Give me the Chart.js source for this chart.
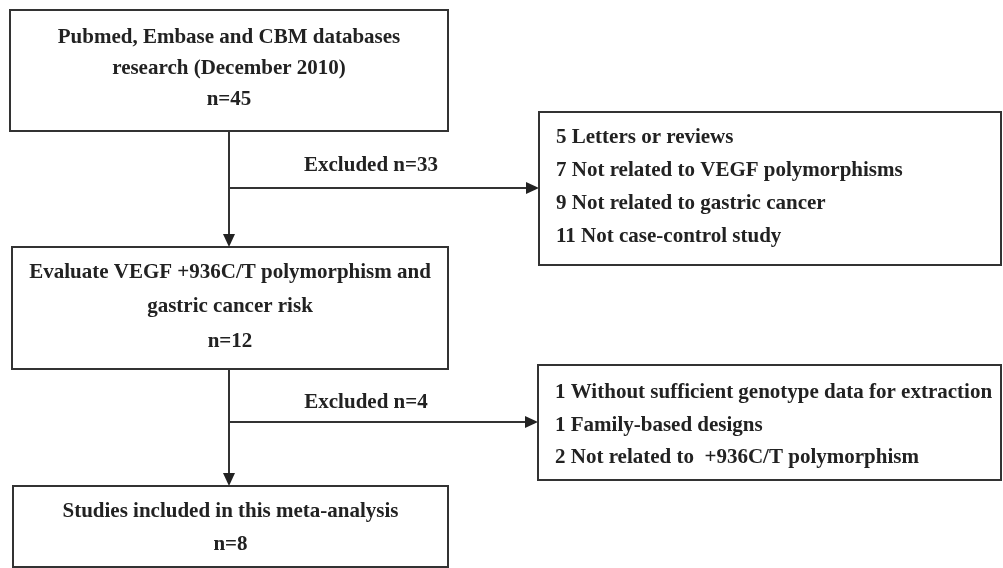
<!DOCTYPE html>
<html><head><meta charset="utf-8">
<script src="https://cdn.jsdelivr.net/npm/chart.js@4/dist/chart.umd.min.js"></script>
<style>html,body{margin:0;padding:0;background:#fff}canvas{display:block}</style>
</head><body>
<canvas id="c" width="1003" height="568"></canvas>
<script>
// ---- data ----
const stageTitles = [
  ["Pubmed, Embase and CBM databases", "research (December 2010)"],
  ["Evaluate VEGF +936C/T polymorphism and", "gastric cancer risk"],
  ["Studies included in this meta-analysis"]
];
const stageCounts = [45, 12, 8];
const excludedCounts = [33, 4];
const exclusionReasons1 = ["Letters or reviews", "Not related to VEGF polymorphisms", "Not related to gastric cancer", "Not case-control study"];
const exclusionValues1 = [5, 7, 9, 11];
const exclusionReasons2 = ["Without sufficient genotype data for extraction", "Family-based designs", "Not related to  +936C/T polymorphism"];
const exclusionValues2 = [1, 1, 2];

// ---- layout (diagram units = px of the 1003x568 frame) ----
const layout = {
  stageBoxes: [ {x0:10,y0:10,x1:448,y1:131,lines:[38,69,100]},
                {x0:12,y0:247,x1:448,y1:369,lines:[273,307,342]},
                {x0:13,y0:486,x1:448,y1:567,lines:[512,545]} ],
  sideBoxes:  [ {x0:539,y0:112,x1:1001,y1:265,tx:556,lines:[138,171,204,237]},
                {x0:538,y0:365,x1:1001,y1:480,tx:555,lines:[393,426,458]} ],
  spineX: 229,
  branchY: [188, 422],
  exclLabel: [{x:371,y:166},{x:366,y:403}]
};

const FONT = 'bold 21px "Liberation Serif", "Times New Roman", serif';
const INK = '#222';
const EDGE = '#333';

const flowPlugin = {
  id: 'flow',
  afterDraw(chart) {
    const ctx = chart.ctx, xs = chart.scales.x, ys = chart.scales.y;
    const X = v => xs.getPixelForValue(v), Y = v => ys.getPixelForValue(v);
    ctx.save();
    ctx.strokeStyle = EDGE; ctx.fillStyle = INK; ctx.lineWidth = 2;
    ctx.font = FONT; ctx.textBaseline = 'middle';
    const rect = b => { ctx.strokeRect(X(b.x0), Y(b.y0), X(b.x1)-X(b.x0), Y(b.y1)-Y(b.y0)); };
    const line = (a,b,c,d) => { ctx.beginPath(); ctx.moveTo(X(a),Y(b)); ctx.lineTo(X(c),Y(d)); ctx.stroke(); };
    const headDown = (x,y) => { ctx.beginPath(); ctx.moveTo(X(x),Y(y)); ctx.lineTo(X(x)-6,Y(y)-13); ctx.lineTo(X(x)+6,Y(y)-13); ctx.closePath(); ctx.fill(); };
    const headRight = (x,y) => { ctx.beginPath(); ctx.moveTo(X(x),Y(y)); ctx.lineTo(X(x)-13,Y(y)-6); ctx.lineTo(X(x)-13,Y(y)+6); ctx.closePath(); ctx.fill(); };

    layout.stageBoxes.forEach((b,i) => {
      rect(b);
      const txt = stageTitles[i].concat(['n=' + stageCounts[i]]);
      ctx.textAlign = 'center';
      const cx = (X(b.x0)+X(b.x1))/2;
      txt.forEach((t,j) => ctx.fillText(t, cx, Y(b.lines[j])));
    });
    for (let i=0;i<2;i++){
      const top = layout.stageBoxes[i].y1, bot = layout.stageBoxes[i+1].y0;
      line(layout.spineX, top, layout.spineX, bot-10);
      headDown(layout.spineX, bot);
      const by = layout.branchY[i], sb = layout.sideBoxes[i];
      line(layout.spineX, by, sb.x0-10, by);
      headRight(sb.x0, by);
      ctx.textAlign='center';
      ctx.fillText('Excluded n=' + excludedCounts[i], X(layout.exclLabel[i].x), Y(layout.exclLabel[i].y));
    }
    const reasons = [exclusionReasons1, exclusionReasons2], vals = [exclusionValues1, exclusionValues2];
    layout.sideBoxes.forEach((b,i) => {
      rect(b);
      ctx.textAlign='left';
      reasons[i].forEach((r,j) => ctx.fillText(vals[i][j] + ' ' + r, X(b.tx), Y(b.lines[j])));
    });
    ctx.restore();
  }
};

new Chart(document.getElementById('c'), {
  type: 'scatter',
  data: { datasets: [{ data: [], pointRadius: 0 }] },
  options: {
    responsive: false, devicePixelRatio: 1, animation: false,
    layout: { padding: 0 },
    plugins: { legend: {display:false}, tooltip: {enabled:false} },
    scales: {
      x: { type:'linear', min:0, max:1003, display:false },
      y: { type:'linear', min:0, max:568, reverse:true, display:false }
    }
  },
  plugins: [flowPlugin]
});
</script>
</body></html>
